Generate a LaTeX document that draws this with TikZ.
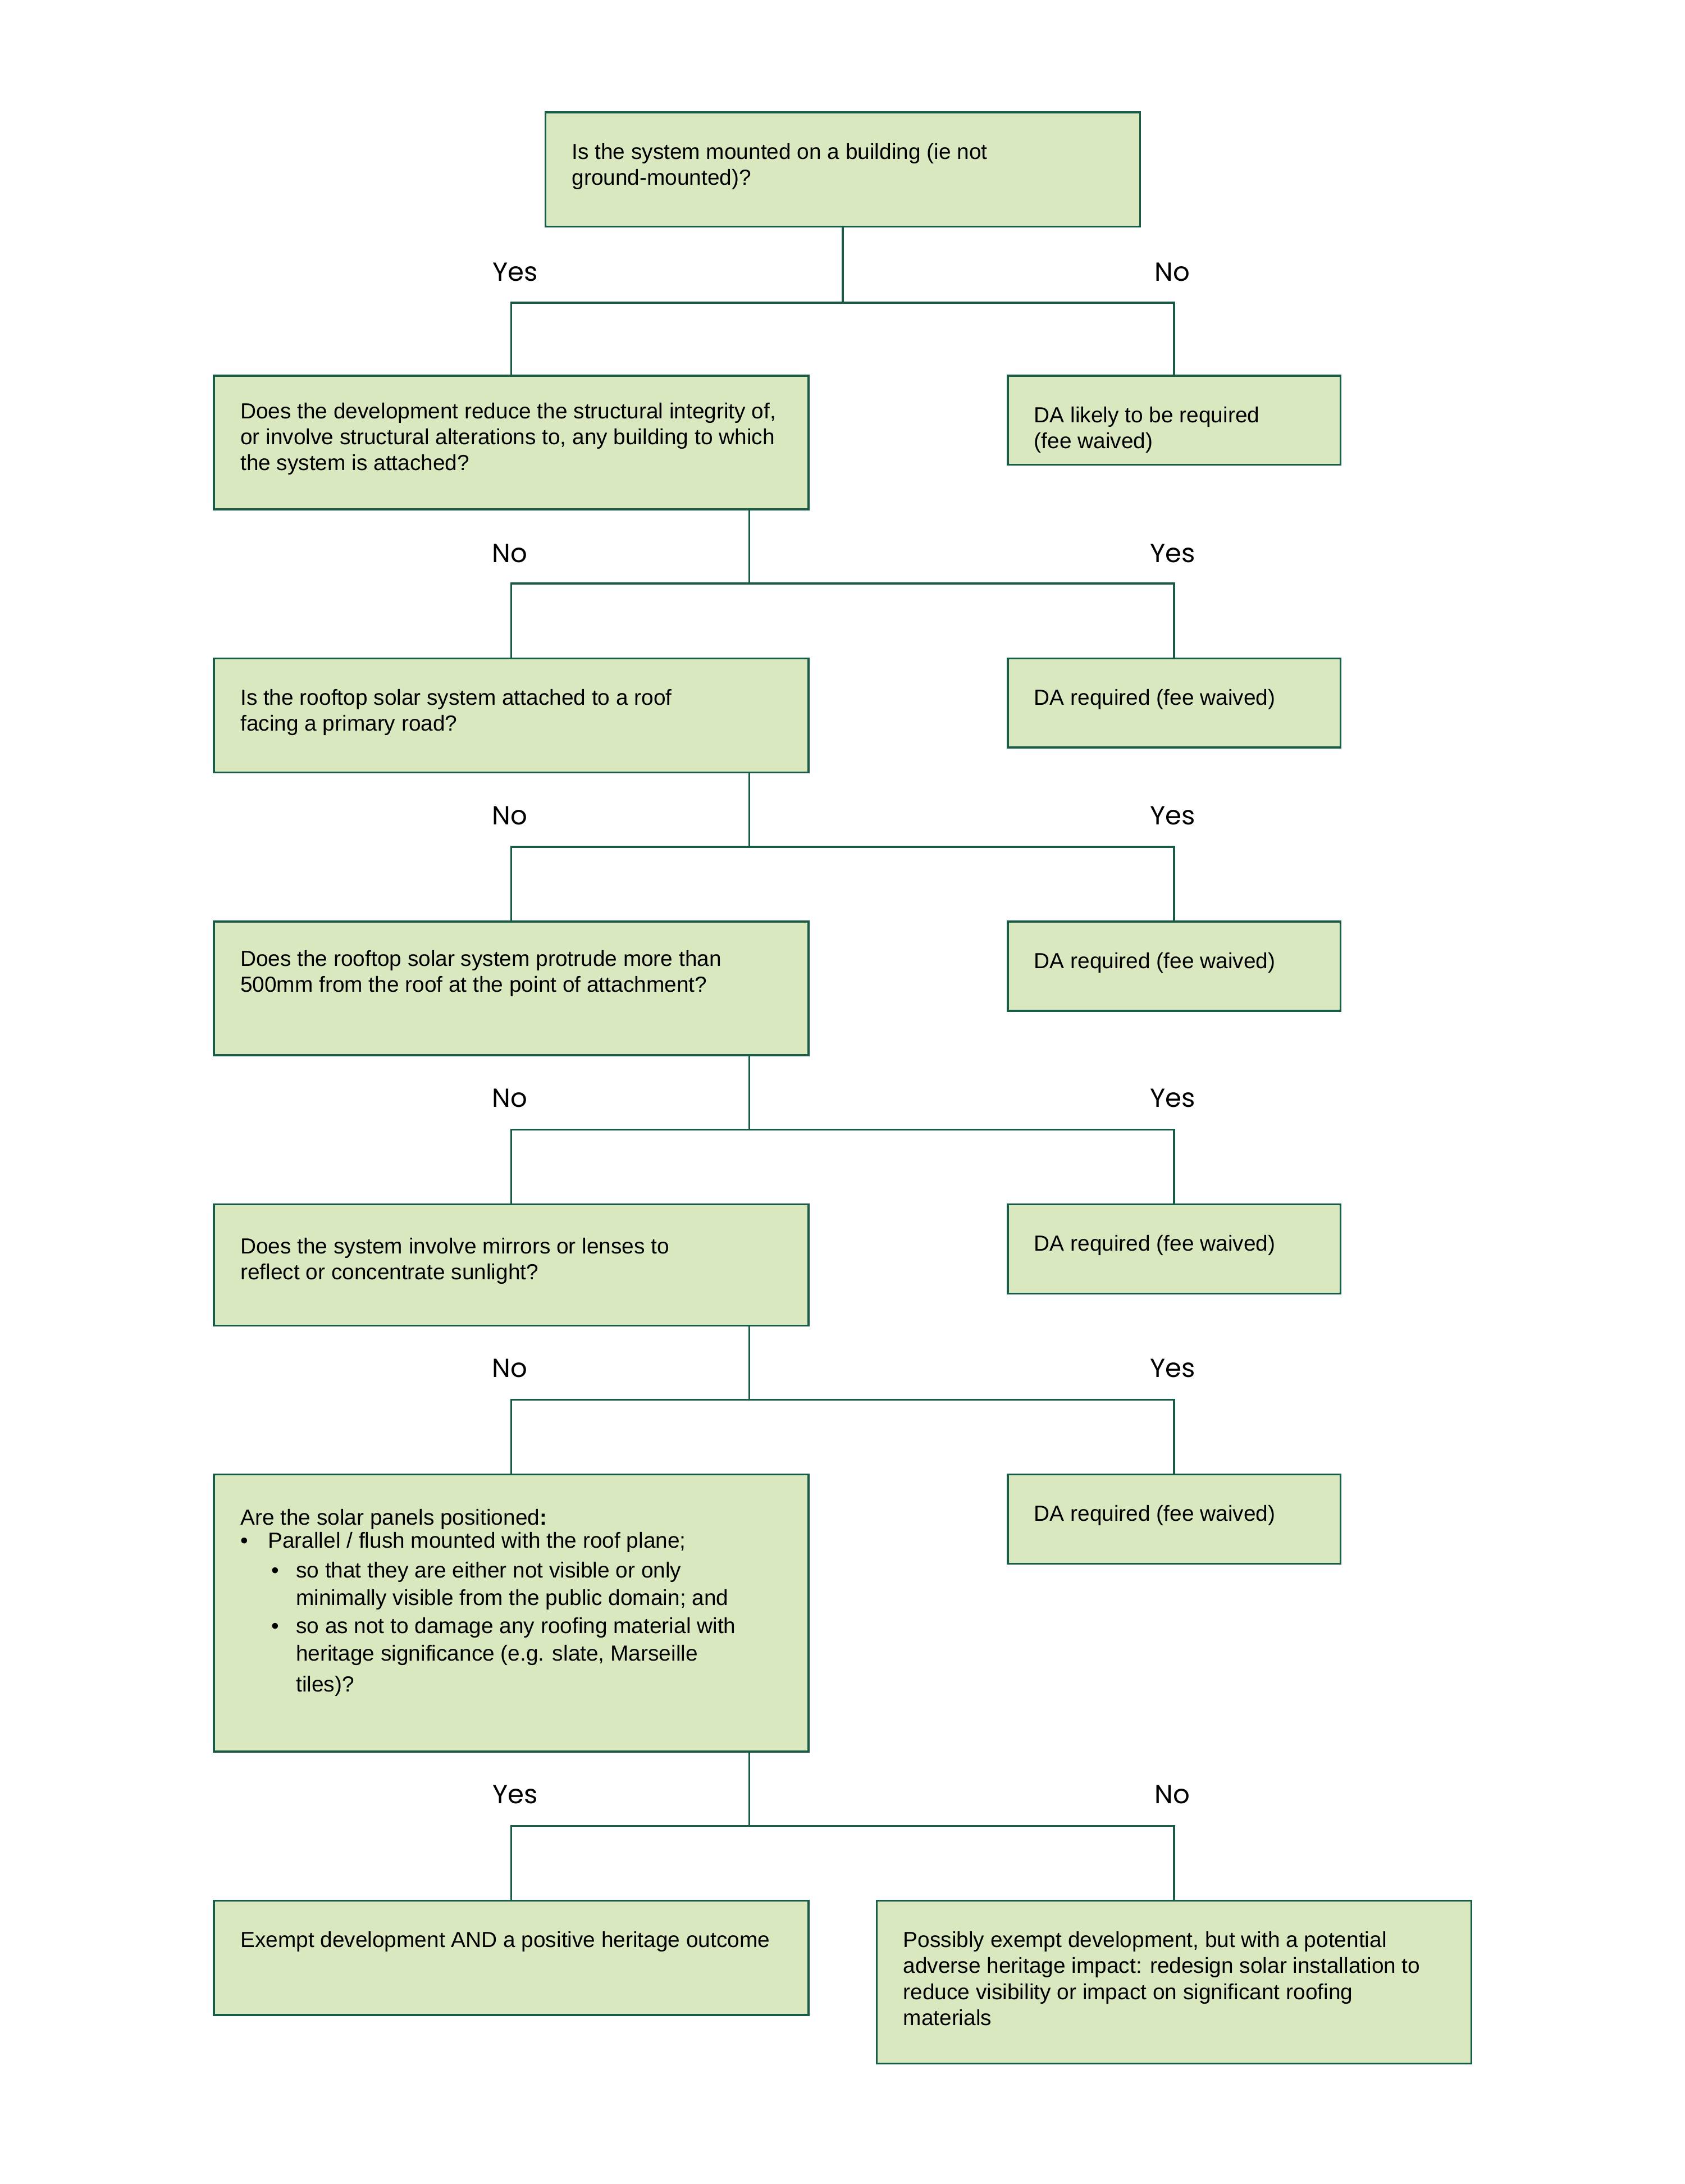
\documentclass[tikz,border=0pt]{standalone}
\usepackage{fontspec}
\setmainfont{Liberation Sans}
\newfontfamily\lblfont{Poppins}
\usetikzlibrary{positioning,calc}

\definecolor{boxline}{RGB}{24,92,72}
\definecolor{boxfill}{RGB}{218,232,191}

\newdimen\dpx
\dpx=0.50592pt
% text block of a box: width, height (in picture units), first baseline
\newcommand{\qtext}[4][17pt]{\parbox[c][#3\dpx][t]{#2\dpx}{\raggedright\rule{0pt}{#1}#4}}
\newcommand{\bul}[1]{\makebox[#1][l]{\textbullet}}

\tikzset{
  qbox/.style={draw=boxline, fill=boxfill, line width=0.7pt, anchor=north west,
    inner xsep=9.6pt, inner ysep=0pt, font=\fontsize{7.92}{9.4}\selectfont},
  link/.style={draw=boxline, line width=0.7pt},
  lbl/.style={anchor=base, inner sep=0pt, font=\lblfont\fontsize{9.5}{11}\selectfont}
}

\begin{document}
\begin{tikzpicture}[x=0.50592pt, y=-0.50592pt]
\useasboundingbox (0,0) rectangle (1209.7,1568.1);

% --- questions ---
\node[qbox] (q1) at (391,80) {\qtext{389}{82}{Is the system mounted on a building (ie not\\ground-mounted)?}};
\node[qbox] (q2) at (153,269) {\qtext[15.6pt]{389}{96}{Does the development reduce the structural integrity of,\\or involve structural alterations to, any building to which\\the system is attached?}};
\node[qbox] (q3) at (153,472) {\qtext{389}{82}{Is the rooftop solar system attached to a roof\\facing a primary road?}};
\node[qbox] (q4) at (153,661) {\qtext[16.2pt]{389}{96}{Does the rooftop solar system protrude more than\\500mm from the roof at the point of attachment?}};
\node[qbox] (q5) at (153,864) {\qtext[18pt]{389}{87}{Does the system involve mirrors or lenses to\\reflect or concentrate sunlight?}};
\node[qbox] (q6) at (153,1058) {\qtext[18.4pt]{389}{199}{Are the solar panels positioned\textbf{:}\\[-1.2pt]
  \bul{10pt}Parallel / flush mounted with the roof plane;\\[1.4pt]
  \hspace*{11.2pt}\bul{9pt}so that they are either not visible or only\\[0.6pt]
  \hspace*{20.2pt}minimally visible from the public domain; and\\[0.9pt]
  \hspace*{11.2pt}\bul{9pt}so as not to damage any roofing material with\\[0.5pt]
  \hspace*{20.2pt}heritage significance (e.g. slate, Marseille\\[2pt]
  \hspace*{20.2pt}tiles)?}};

% --- answers ---
\node[qbox] (r1) at (723,269) {\qtext{201}{64}{DA likely to be required\\(fee waived)}};
\node[qbox] (r2) at (723,472) {\qtext{201}{64}{DA required (fee waived)}};
\node[qbox] (r3) at (723,661) {\qtext{201}{64}{DA required (fee waived)}};
\node[qbox] (r4) at (723,864) {\qtext{201}{64}{DA required (fee waived)}};
\node[qbox] (r5) at (723,1058) {\qtext{201}{64}{DA required (fee waived)}};
\node[qbox] (e1) at (153,1364) {\qtext{389}{82}{Exempt development AND a positive heritage outcome}};
\node[qbox] (e2) at (629,1364) {\qtext{389}{117}{Possibly exempt development, but with a potential\\adverse heritage impact: redesign solar installation to\\reduce visibility or impact on significant roofing\\materials}};

% --- branches ---
\coordinate (j1) at ($(q1.south)+(0,54)$);
\coordinate (j2) at (538,419);
\coordinate (j3) at (538,608);
\coordinate (j4) at (538,811);
\coordinate (j5) at (538,1005);
\coordinate (j6) at (538,1311);

\draw[link] (q1.south) -- (j1);
\draw[link] (j1) -| (q2.north);
\draw[link] (j1) -| (r1.north);
\foreach \up/\jn/\lt/\rt in {q2/j2/q3/r2, q3/j3/q4/r3, q4/j4/q5/r4, q5/j5/q6/r5, q6/j6/e1/e2}{
  \draw[link] (\up.south -| \jn) -- (\jn) -| (\lt.north);
  \draw[link] (\jn) -| (\rt.north);
}

% --- labels ---
\node[lbl] (y1) at (370,202) {Yes};
\node[lbl] (n1) at (842,202) {No};
\node[lbl] (n2) at (366,404) {No};
\node[lbl] (y2) at (842,404) {Yes};
\node[lbl] (n3) at (366,592) {No};
\node[lbl] (y3) at (842,592) {Yes};
\node[lbl] (n4) at (366,795) {No};
\node[lbl] (y4) at (842,795) {Yes};
\node[lbl] (n5) at (366,989) {No};
\node[lbl] (y5) at (842,989) {Yes};
\node[lbl] (y6) at (370,1295) {Yes};
\node[lbl] (n6) at (842,1295) {No};

\end{tikzpicture}
\end{document}
